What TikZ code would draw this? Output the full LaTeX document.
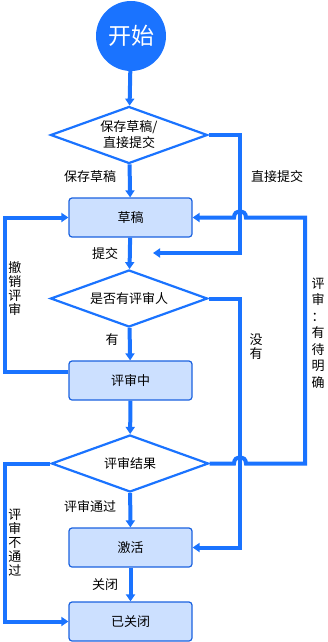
\documentclass[tikz,border=0pt]{standalone}
\usepackage{fontspec}
\newfontfamily\cjk{Noto Sans CJK SC}
\usetikzlibrary{shapes.geometric,arrows.meta}
\definecolor{lineblue}{HTML}{1A73FF}
\definecolor{boxfill}{HTML}{CCE0FF}
\definecolor{boxedge}{HTML}{1A62E0}
\tikzset{
  conn/.style={draw=lineblue,line width=4pt},
  arr/.style={conn,-{Triangle[width=9pt,length=7pt]}},
  stepbox/.style={draw=boxedge,fill=boxfill,line width=1.2pt,rounded corners=3pt,
    minimum width=123pt,minimum height=39pt,inner sep=0pt,
    font={\cjk\fontsize{13pt}{15pt}\selectfont}},
  decide/.style={diamond,draw=lineblue,fill=white,line width=2.2pt,aspect=2.75,
    minimum width=157pt,minimum height=57pt,inner sep=0pt,align=center,
    font={\cjk\fontsize{13pt}{16pt}\selectfont}},
  lbl/.style={font={\cjk\fontsize{13pt}{15pt}\selectfont},inner sep=0pt},
  vlbl/.style={font={\cjk\fontsize{13pt}{14pt}\selectfont},inner sep=0pt,align=center,text width=13pt},
}
\begin{document}
\begin{tikzpicture}[x=1pt,y=-1pt]
\useasboundingbox (0,0) rectangle (327,642);
\node[circle,fill=lineblue,minimum size=70pt,inner sep=0pt,text=white,
  font={\cjk\fontsize{23pt}{25pt}\selectfont}] (start) at (131,36) {开始};
\node[decide] (d1) at (129,135) {保存草稿/\\直接提交};
\node[stepbox] (draft) at (130.5,217.5) {草稿};
\node[decide] (d2) at (129,298.5) {是否有评审人};
\node[stepbox] (review) at (130.5,380.5) {评审中};
\node[decide] (d3) at (130,463.5) {评审结果};
\node[stepbox] (active) at (130.5,547.5) {激活};
\node[stepbox] (closed) at (130.5,621.5) {已关闭};
\coordinate (subin) at (153,253);

% main column
\draw[arr] (start) -- (d1);
\draw[arr] (d1) -- (draft);
\draw[arr] (draft) -- (d2);
\draw[arr] (d2) -- (review);
\draw[arr] (review) -- (d3);
\draw[arr] (d3) -- (active);
\draw[arr] (active) -- (closed);

% direct submit
\draw[arr] (d1.east) -- (240,135) -- (240,253) -- (subin);
% no reviewer
\draw[arr] (d2.east) -- (240,298.5) |- (active.east);
% withdraw review
\draw[arr] (review.west) ++(0,-9) -- (5,371.5) |- (draft.west);
% review not passed
\draw[arr] (d3.west) -- (5,463.5) |- (closed.west);
% review pending
\draw[arr] (d3.east) -- (234,463.5) .. controls (234,455) and (246,455) .. (246,463.5)
  -- (305,463.5) -- (305,217.5) -- (246,217.5)
  .. controls (246,209) and (234,209) .. (234,217.5) -- (draft.east);

% labels
\node[lbl] (l1) at (90,177) {保存草稿};
\node[lbl] (l2) at (277,177) {直接提交};
\node[lbl] (l3) at (105,254) {提交};
\node[lbl] (l4) at (112,340) {有};
\node[lbl] (l5) at (90,507) {评审通过};
\node[lbl] (l6) at (105,585) {关闭};
\node[vlbl] (v1) at (15,288) {撤\\销\\评\\审};
\node[vlbl] (v2) at (256,347) {没\\有};
\node[vlbl] (v3) at (15,543) {评\\审\\不\\通\\过};
\node[vlbl,font={\cjk\fontsize{13pt}{16.5pt}\selectfont}] (v4) at (318,333) {评\\审\\：\\有\\待\\明\\确};
\end{tikzpicture}
\end{document}
